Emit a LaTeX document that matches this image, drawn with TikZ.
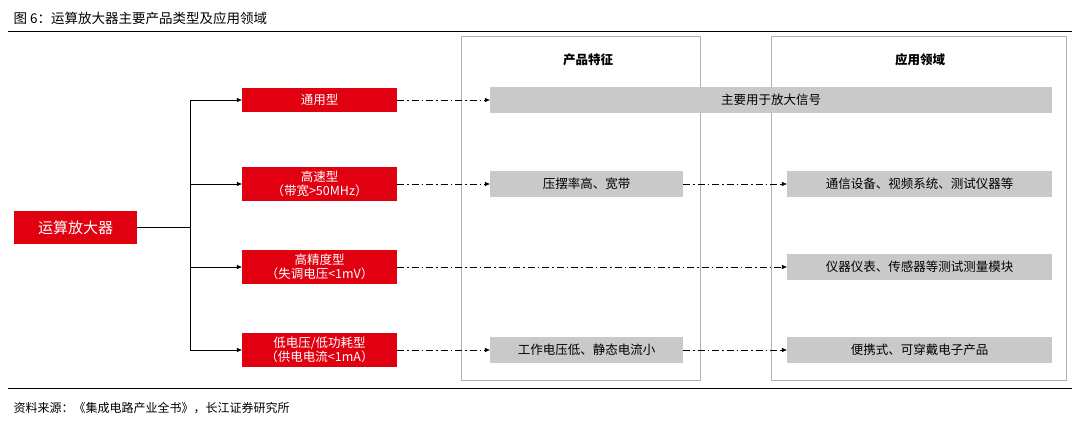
\documentclass[tikz,border=0pt]{standalone}
\usepackage{fontspec}
\setmainfont{Noto Sans CJK SC}
\usetikzlibrary{arrows.meta}
\definecolor{cred}{HTML}{E00010}
\definecolor{cgray}{HTML}{C9C9C9}
\begin{document}
\begin{tikzpicture}[x=1pt,y=-1pt,
  redbox/.style={fill=cred,text=white,inner sep=0pt,font=\fontsize{12.5}{14}\selectfont,align=center},
  graybox/.style={fill=cgray,inner sep=0pt,font=\fontsize{12.5}{14}\selectfont},
  panel/.style={draw=gray!60,line width=0.8pt},
  tree/.style={line width=0.6pt,-{Triangle[length=5pt,width=4pt]}},
  dd/.style={line width=0.6pt,dash pattern=on 7pt off 3pt on 1.5pt off 3pt,-{Triangle[length=5pt,width=4pt]}}]
\useasboundingbox (0,0) rectangle (1080,427);
\node[anchor=west,font=\fontsize{13.5}{15}\selectfont] (title) at (10,18) {图 6：运算放大器主要产品类型及应用领域};
\draw[line width=0.8pt] (8,31) -- (1072,31);
\draw[line width=0.8pt] (8,388) -- (1072,388);
\node[anchor=west,font=\fontsize{12}{14}\selectfont] (src) at (10,408) {资料来源：《集成电路产业全书》，长江证券研究所};
% panels
\draw[panel] (461,36) rectangle (700,380);
\draw[panel] (771,36) rectangle (1066,380);
\node[font=\bfseries\fontsize{12.5}{14}\selectfont] (h1) at (588,60) {产品特征};
\node[font=\bfseries\fontsize{12.5}{14}\selectfont] (h2) at (920,60) {应用领域};
% left
\node[redbox,minimum width=123pt,minimum height=33pt,font=\fontsize{15}{17}\selectfont] (root) at (75.5,227.5) {运算放大器};
\node[redbox,minimum width=155pt,minimum height=24pt] (r1) at (319.5,100) {通用型};
\node[redbox,minimum width=155pt,minimum height=34pt] (r2) at (319.5,184) {高速型\\（带宽>50MHz）};
\node[redbox,minimum width=155pt,minimum height=34pt] (r3) at (319.5,267) {高精度型\\（失调电压<1mV）};
\node[redbox,minimum width=155pt,minimum height=34pt] (r4) at (319.5,350) {低电压/低功耗型\\（供电电流<1mA）};
\coordinate (j) at (190,227.5);
\draw[line width=0.6pt] (root.east) -- (j);
\draw[line width=0.6pt] (190,100) -- (190,350);
\draw[tree] (190,100) -- (r1.west);
\draw[tree] (190,184) -- (r2.west);
\draw[tree] (190,267) -- (r3.west);
\draw[tree] (190,350) -- (r4.west);
% gray
\node[graybox,minimum width=562pt,minimum height=26pt] (g1) at (771,100) {主要用于放大信号};
\node[graybox,minimum width=193pt,minimum height=26pt] (p2) at (586.5,184) {压摆率高、宽带};
\node[graybox,minimum width=265pt,minimum height=26pt] (a2) at (919.5,184) {通信设备、视频系统、测试仪器等};
\node[graybox,minimum width=265pt,minimum height=26pt] (a3) at (919.5,267) {仪器仪表、传感器等测试测量模块};
\node[graybox,minimum width=193pt,minimum height=26pt] (p4) at (586.5,350) {工作电压低、静态电流小};
\node[graybox,minimum width=265pt,minimum height=26pt] (a4) at (919.5,350) {便携式、可穿戴电子产品};
\draw[dd] (r1.east) -- (g1.west);
\draw[dd] (r2.east) -- (p2.west);
\draw[dd] (p2.east) -- (a2.west);
\draw[dd] (r3.east) -- (a3.west);
\draw[dd] (r4.east) -- (p4.west);
\draw[dd] (p4.east) -- (a4.west);
\end{tikzpicture}
\end{document}
